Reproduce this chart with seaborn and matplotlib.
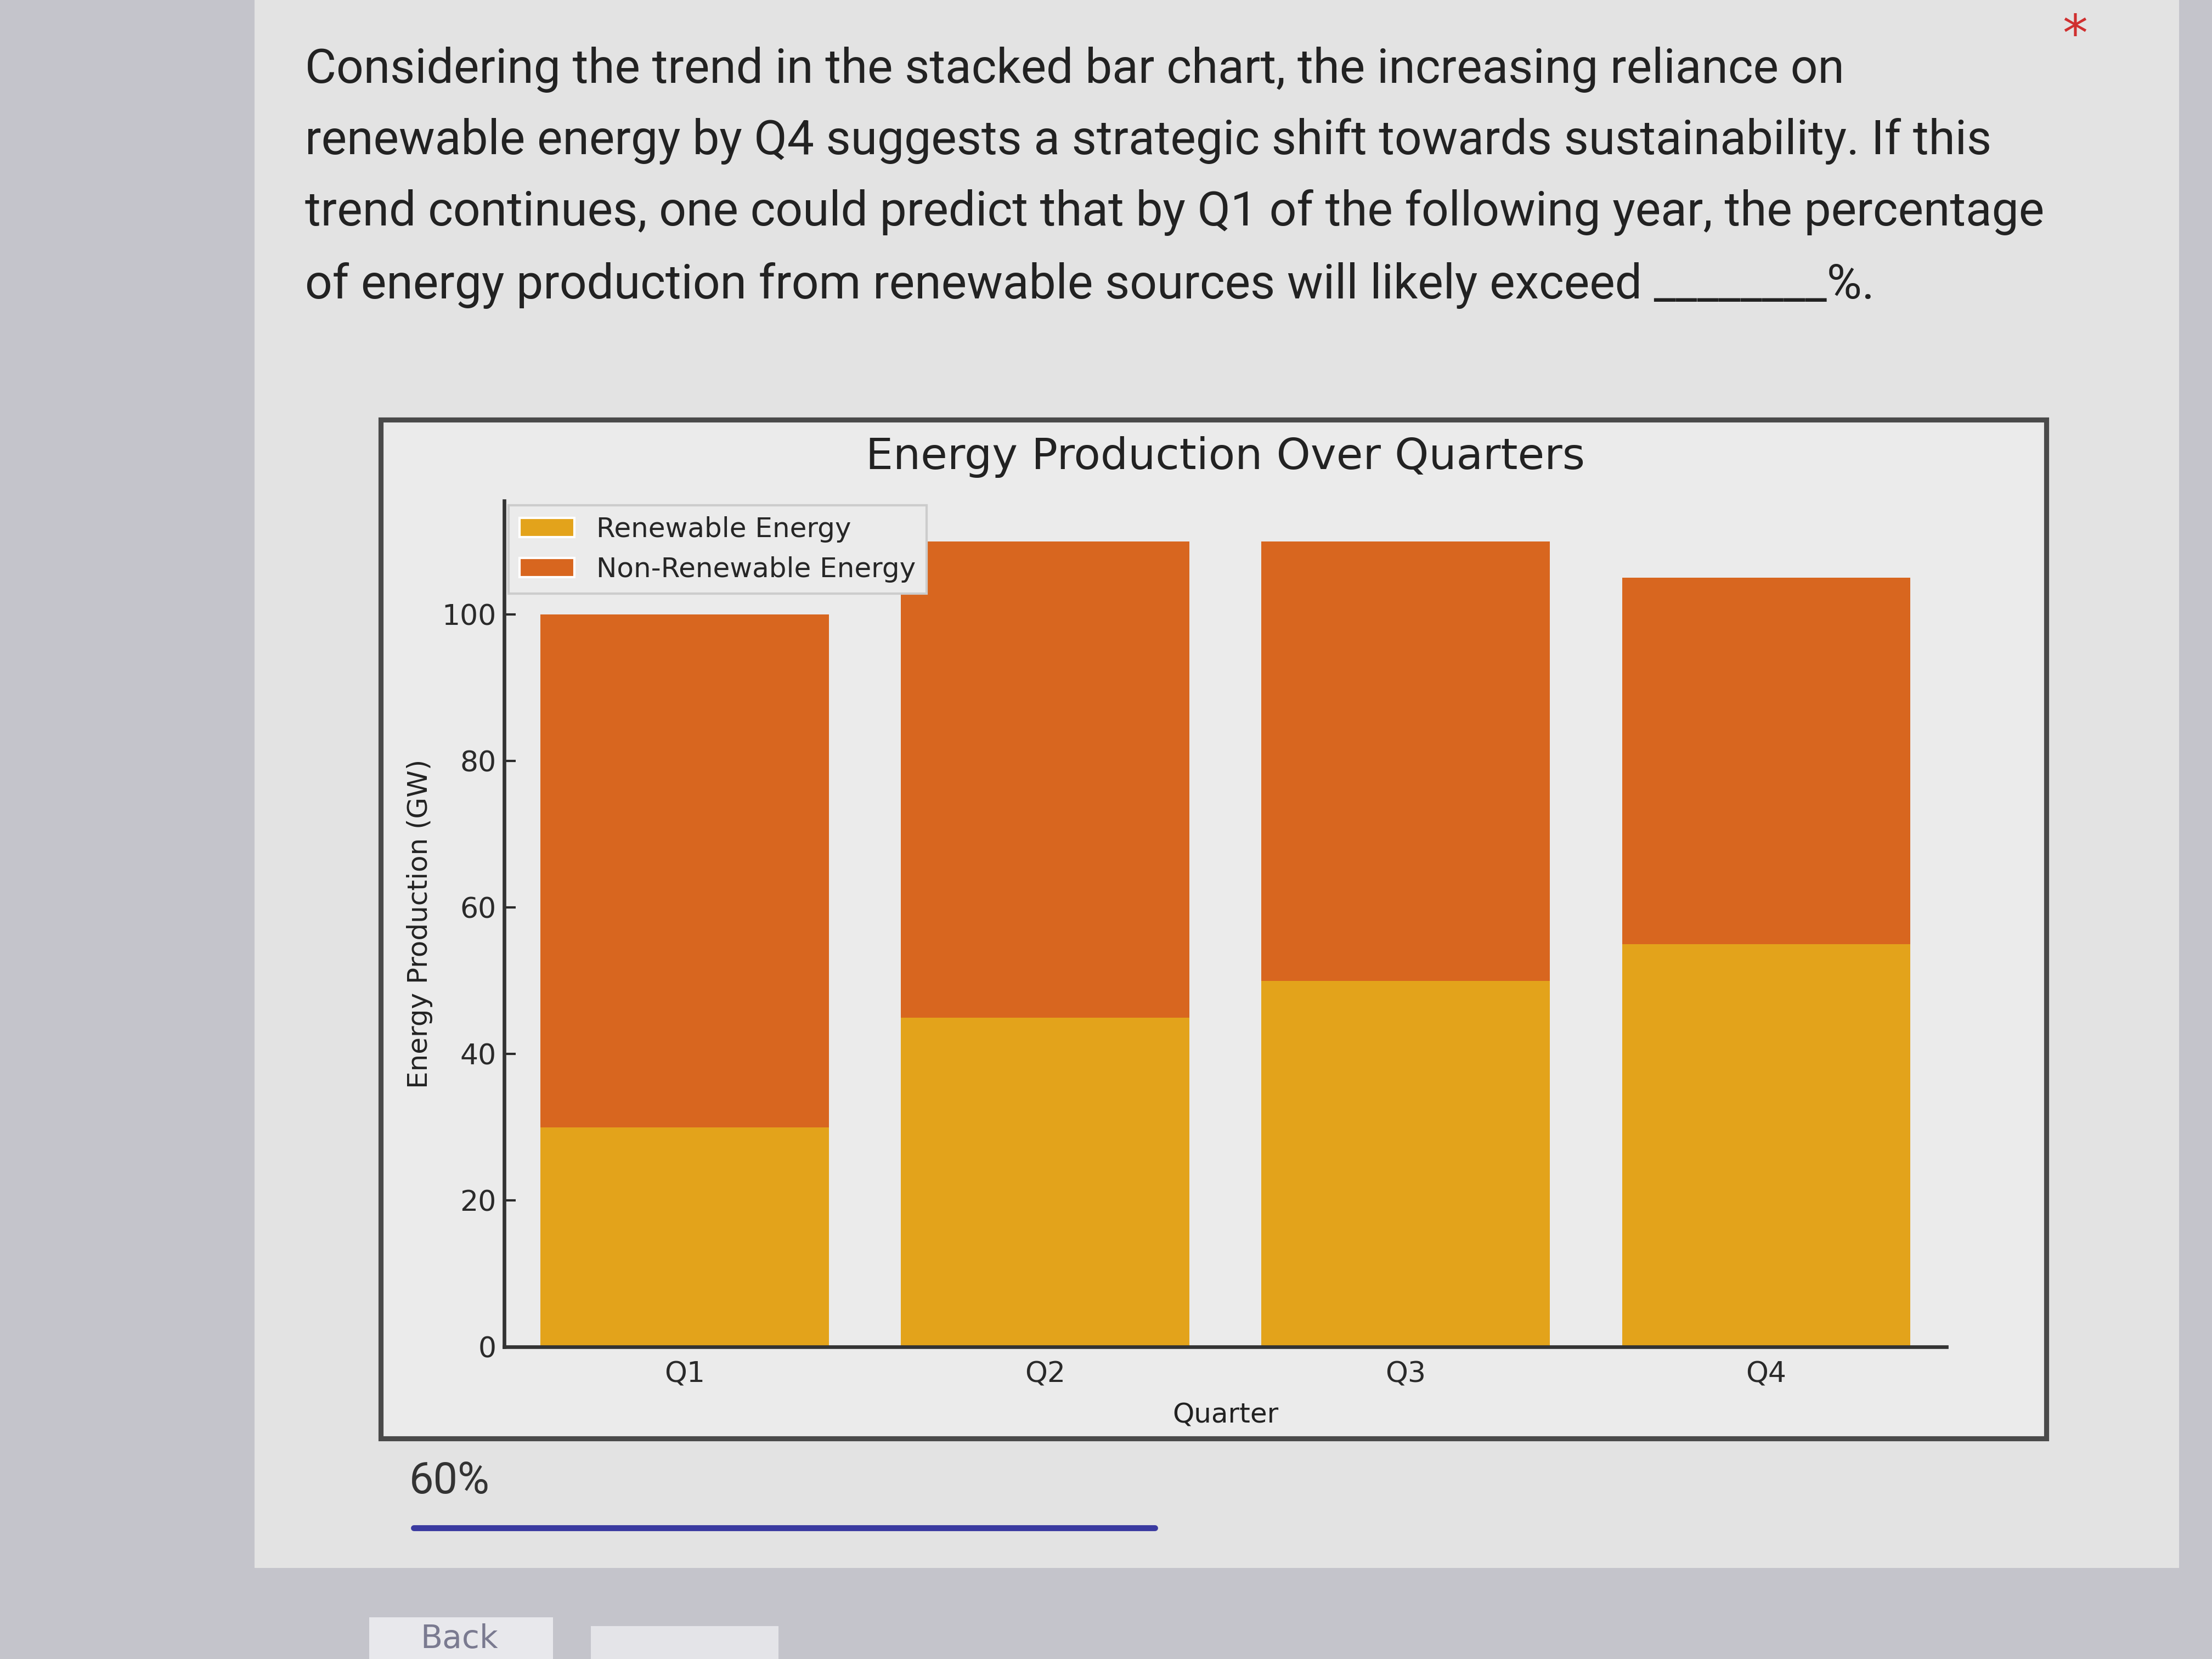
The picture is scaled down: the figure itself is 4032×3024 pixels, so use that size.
import matplotlib
matplotlib.use("Agg")
import matplotlib.pyplot as plt
import seaborn as sns
from matplotlib.patches import Rectangle, Patch
from matplotlib.lines import Line2D

# data
quarters = ["Q1", "Q2", "Q3", "Q4"]
renewable = [30, 45, 50, 55]
non_renewable = [70, 65, 60, 50]
totals = [r + n for r, n in zip(renewable, non_renewable)]

question_lines = [
    "Considering the trend in the stacked bar chart, the increasing reliance on",
    "renewable energy by Q4 suggests a strategic shift towards sustainability. If this",
    "trend continues, one could predict that by Q1 of the following year, the percentage",
    "of energy production from renewable sources will likely exceed ________%.",
]
answer = "60%"

REN_COLOR = "#E3A31B"
NON_COLOR = "#D8661F"
PAGE = "#e3e3e3"
CHART_BG = "#ebebeb"

sns.set_theme(style="ticks")
plt.rcParams["font.family"] = ["DejaVu Sans"]

fig = plt.figure(figsize=(13.44, 10.08), dpi=300)
fig.patch.set_facecolor("#c4c4cb")

# page card behind the question
fig.patches.append(Rectangle((0.115, 0.055), 0.87, 0.945, transform=fig.transFigure,
                             facecolor=PAGE, edgecolor="none", zorder=0))

# question text
ys = [0.958, 0.915, 0.872, 0.828]
for y, line in zip(ys, question_lines):
    fig.text(0.138, y, line, fontsize=21, family=["Roboto", "DejaVu Sans"],
             color="#222222", va="center", ha="left")
fig.text(0.938, 0.978, "*", fontsize=22, color="#d03030", ha="center", va="center")

# frame of the chart image
fig.patches.append(Rectangle((0.172, 0.133), 0.753, 0.614, transform=fig.transFigure,
                             facecolor=CHART_BG, edgecolor="#4a4a4a", linewidth=2.2, zorder=1))

ax = fig.add_axes([0.228, 0.188, 0.652, 0.51])
ax.set_zorder(5)
ax.set_facecolor(CHART_BG)

# stacked bars: total in non-renewable colour, renewable drawn over it
sns.barplot(x=quarters, y=totals, color=NON_COLOR, saturation=1, width=0.8,
            linewidth=0, ax=ax)
sns.barplot(x=quarters, y=renewable, color=REN_COLOR, saturation=1, width=0.8,
            linewidth=0, ax=ax)

ax.set_yticks([0, 20, 40, 60, 80, 100])
ax.set_title("Energy Production Over Quarters", fontsize=19, color="#222222", pad=14)
ax.set_xlabel("Quarter", fontsize=12, color="#222222", labelpad=6)
ax.set_ylabel("Energy Production (GW)", fontsize=12, color="#222222")
ax.tick_params(direction="in", length=5, width=1, labelsize=12.5, colors="#2a2a2a")
ax.tick_params(axis="x", pad=6)
sns.despine(ax=ax)
for s in ["left", "bottom"]:
    ax.spines[s].set_linewidth(1.6)
    ax.spines[s].set_color("#333333")

handles = [Patch(facecolor=REN_COLOR, label="Renewable Energy"),
           Patch(facecolor=NON_COLOR, label="Non-Renewable Energy")]
leg = ax.legend(handles=handles, loc="upper left", bbox_to_anchor=(0, 1.0),
                borderaxespad=0.15, fontsize=12, frameon=True, fancybox=False,
                facecolor=CHART_BG, edgecolor="#cccccc", framealpha=1)

# answer field below the chart
fig.text(0.185, 0.107, answer, fontsize=19, family=["Roboto", "DejaVu Sans"],
         color="#333333", va="center", ha="left")
fig.lines.append(Line2D([0.187, 0.522], [0.079, 0.079], transform=fig.transFigure,
                        color="#3a3aa0", linewidth=2.6))

# buttons at the bottom edge
fig.patches.append(Rectangle((0.167, -0.01), 0.083, 0.035, transform=fig.transFigure,
                             facecolor="#e8e8ec", edgecolor="none"))
fig.patches.append(Rectangle((0.267, -0.01), 0.085, 0.03, transform=fig.transFigure,
                             facecolor="#e4e4e8", edgecolor="none"))
fig.text(0.19, 0.012, "Back", fontsize=14, color="#7a7a90", va="center", ha="left")

fig.savefig("out.png", dpi=300, facecolor=fig.get_facecolor())
